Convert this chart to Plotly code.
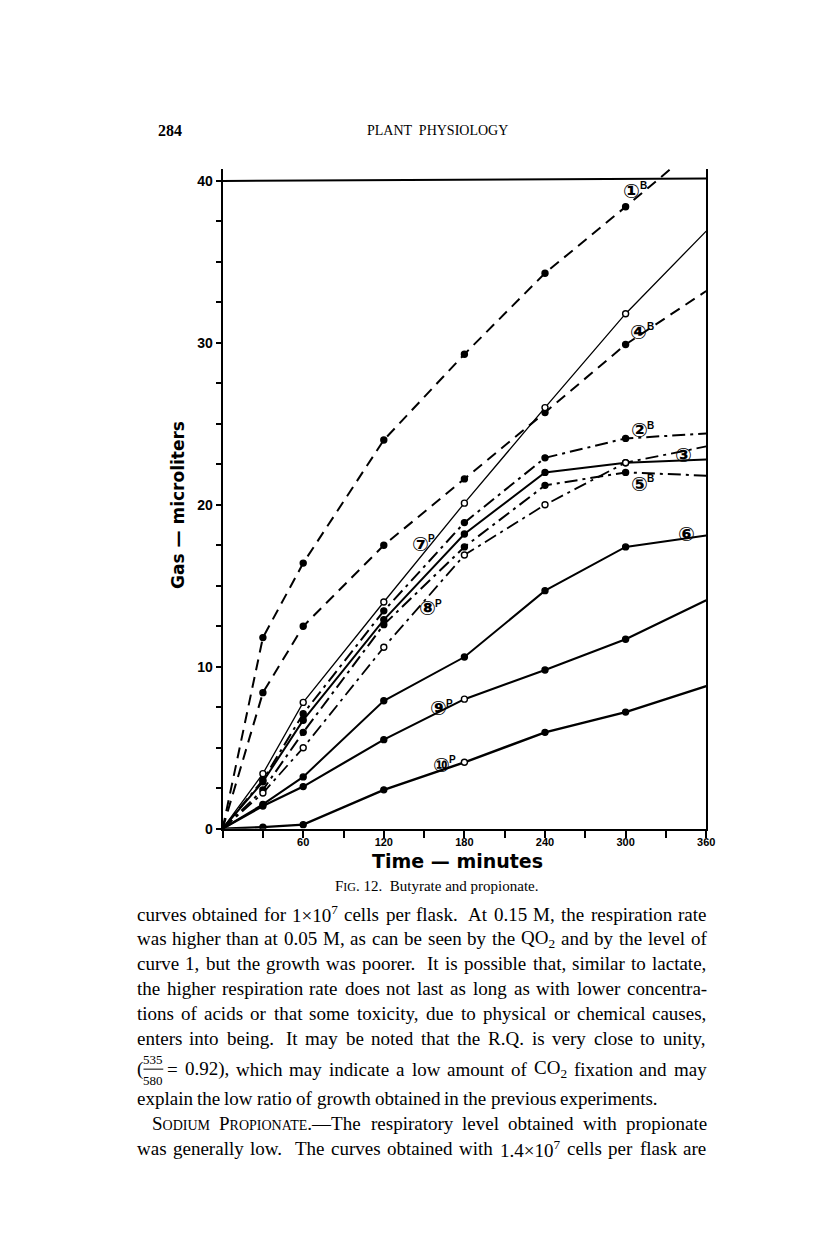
import re
import plotly.graph_objects as go

W_PX, H_PX = 816, 1248

# ---------------- data ----------------
time_min = [0, 30, 60, 120, 180, 240, 300, 360]
time_1B = [0, 30, 60, 120, 180, 240, 300, 333]
gas_1B = [0, 11.8, 16.4, 24.0, 29.3, 34.3, 38.4, 40.7]
gas_4B = [0, 8.4, 12.5, 17.5, 21.6, 25.7, 29.9, 33.2]
gas_7P = [0, 3.4, 7.8, 14.0, 20.1, 26.0, 31.8, 36.9]
gas_2B = [0, 3.0, 7.1, 13.45, 18.9, 22.9, 24.1, 24.4]
gas_3 = [0, 2.9, 6.7, 12.9, 18.2, 22.0, 22.6, 22.8]
gas_5B = [0, 2.4, 5.95, 12.6, 17.4, 21.2, 22.0, 21.8]
gas_8P = [0, 2.2, 5.0, 11.2, 16.9, 20.0, 22.6, 23.6]
gas_6 = [0, 1.5, 3.2, 7.9, 10.6, 14.7, 17.4, 18.1]
gas_9P = [0, 1.4, 2.6, 5.5, 8.0, 9.8, 11.7, 14.1]
gas_10P = [0, 0.1, 0.25, 2.4, 4.1, 5.95, 7.2, 8.8]

# curve labels (circled number + letter) and where they sit
label_num = ["\u2460", "\u2463", "\u2461", "\u2462", "\u2464", "\u2465", "\u2466", "\u2467", "\u2468", "\u2469"]
label_sfx = ["B", "B", "B", "", "B", "", "P", "P", "P", "P"]
label_x = [304.7, 309.7, 310.3, 343.4, 310.3, 345.3, 147.3, 152.4, 160.7, 162.6]
label_y = [39.4, 30.7, 24.6, 23.1, 21.3, 18.2, 17.6, 13.6, 7.45, 3.95]

x_tick_vals = [60, 120, 180, 240, 300, 360]
x_tick_text = ["60", "120", "180", "240", "300", "360"]
y_tick_vals = [0, 10, 20, 30, 40]
y_tick_text = ["0", "10", "20", "30", "40"]
frame_top_value = 40

# ---------------- styles ----------------
DASH = "11px,7px"
DASHDOT = "13px,5px,3px,5px"

fig = go.Figure()


def add_curve(t, g, dash, width, open_idx=()):
    fig.add_trace(go.Scatter(x=t, y=g, mode="lines",
                             line=dict(color="black", width=width, dash=dash),
                             showlegend=False, hoverinfo="skip"))
    mt, mg = t[1:-1], g[1:-1]
    cols = ["white" if (i + 1) in open_idx else "black" for i in range(len(mt))]
    fig.add_trace(go.Scatter(x=mt, y=mg, mode="markers",
                             marker=dict(size=6, color=cols, line=dict(color="black", width=1.4)),
                             showlegend=False, hoverinfo="skip"))


add_curve(time_1B, gas_1B, DASH, 2.0)
add_curve(time_min, gas_4B, DASH, 2.0)
add_curve(time_min, gas_7P, "solid", 1.3, open_idx=list(range(8)))
add_curve(time_min, gas_2B, DASHDOT, 2.0)
add_curve(time_min, gas_3, "solid", 2.0)
add_curve(time_min, gas_5B, DASHDOT, 2.0)
add_curve(time_min, gas_8P, DASHDOT, 1.8, open_idx=list(range(8)))
add_curve(time_min, gas_6, "solid", 2.0)
add_curve(time_min, gas_9P, "solid", 2.2, open_idx=[4])
add_curve(time_min, gas_10P, "solid", 2.4, open_idx=[4])

# frame line at 40
fig.add_shape(type="line", xref="x", yref="y", x0=0, x1=360,
              y0=frame_top_value, y1=frame_top_value + 0.15,
              line=dict(color="black", width=2))

# curve labels
for n, s, lx, ly in zip(label_num, label_sfx, label_x, label_y):
    fig.add_annotation(x=lx, y=ly, xref="x", yref="y", text=n, showarrow=False,
                       font=dict(family="DejaVu Sans", size=20, color="black", weight="bold"),
                       xanchor="center", yanchor="middle", borderpad=0)
    if s:
        fig.add_annotation(x=lx, y=ly, xref="x", yref="y", text=s, showarrow=False,
                           font=dict(family="Liberation Sans", size=10, color="black", weight="bold"),
                           xanchor="left", yanchor="middle", xshift=7, yshift=5, borderpad=0)

X_LEFT, X_RIGHT = 217, 706
Y_BOT, Y_TOP = 826, 162
PX_PER_UNIT = 16.3

fig.update_xaxes(domain=[X_LEFT / W_PX, X_RIGHT / W_PX], range=[0, 360],
                 showline=True, linecolor="black", linewidth=2, showgrid=False, zeroline=False,
                 tickmode="array", tickvals=x_tick_vals, ticktext=x_tick_text,
                 ticks="outside", ticklen=2, tickwidth=1.5, tickcolor="black",
                 minor=dict(tick0=0, dtick=30, ticks="outside", ticklen=7, tickwidth=1.5,
                            tickcolor="black", showgrid=False),
                 tickfont=dict(family="Liberation Sans", size=11, color="black", weight="bold"))
fig.update_yaxes(domain=[(H_PX - Y_BOT) / H_PX, (H_PX - Y_TOP) / H_PX],
                 range=[0, (Y_BOT - Y_TOP) / PX_PER_UNIT],
                 showline=True, mirror=True, linecolor="black", linewidth=2, showgrid=False,
                 zeroline=False, tickmode="array", tickvals=y_tick_vals, ticktext=y_tick_text,
                 ticks="outside", ticklen=5, tickwidth=2, tickcolor="black",
                 minor=dict(tick0=0, dtick=2.5, ticks="outside", ticklen=5, tickwidth=2,
                            tickcolor="black", showgrid=False),
                 tickfont=dict(family="Liberation Sans", size=14, color="black", weight="bold"))


def px_ann(text, x, y, size, family="Liberation Serif", xanchor="left", angle=0, bold=False):
    fig.add_annotation(x=x / W_PX, y=1 - y / H_PX, xref="paper", yref="paper",
                       text=text, showarrow=False, xanchor=xanchor, yanchor="middle",
                       textangle=angle, borderpad=0, borderwidth=0,
                       font=dict(family=family, size=size, color="black",
                                 weight="bold" if bold else "normal"))


# header
px_ann("284", 152, 123, 16, bold=True)
px_ann("PLANT  PHYSIOLOGY", 434, 123, 14, xanchor="center")

# axis titles
px_ann("Gas — microliters", 172, 500, 17, family="DejaVu Sans", xanchor="center", angle=-90, bold=True)
px_ann("Time — minutes", 455, 858, 19, family="DejaVu Sans", xanchor="center", bold=True)

# caption
px_ann("F<span style='font-size:12px'>IG</span>. 12.  Butyrate and propionate.", 433, 884, 15,
       xanchor="center")

# ---------------- body text (justified with Times metrics) ----------------
TW = {' ': 250, '!': 333, '(': 333, ')': 333, ',': 250, '-': 333, '.': 250, '/': 278,
      ':': 278, ';': 278, '=': 564, '\u00d7': 564, '\u2014': 1000,
      'A': 722, 'B': 667, 'C': 667, 'D': 722, 'E': 611, 'F': 556, 'G': 722, 'H': 722, 'I': 333,
      'J': 389, 'K': 722, 'L': 611, 'M': 889, 'N': 722, 'O': 722, 'P': 556, 'Q': 722, 'R': 667,
      'S': 556, 'T': 611, 'U': 722, 'V': 722, 'W': 944, 'X': 722, 'Y': 722, 'Z': 611,
      'a': 444, 'b': 500, 'c': 444, 'd': 500, 'e': 444, 'f': 333, 'g': 500, 'h': 500, 'i': 278,
      'j': 278, 'k': 500, 'l': 278, 'm': 778, 'n': 500, 'o': 500, 'p': 500, 'q': 500, 'r': 333,
      's': 389, 't': 278, 'u': 500, 'v': 500, 'w': 722, 'x': 500, 'y': 500, 'z': 444}


def measure(markup, size):
    total = 0.0
    stack = [1.0]
    for m in re.finditer(r"<(/?)(sup|sub|span)([^>]*)>|([^<]+)", markup):
        if m.group(4) is not None:
            total += sum(TW.get(c, 500) for c in m.group(4)) * stack[-1]
        elif m.group(1) == "/":
            if len(stack) > 1:
                stack.pop()
        elif m.group(2) in ("sup", "sub"):
            stack.append(0.7)
        else:
            fs = re.search(r"font-size:\s*([\d.]+)px", m.group(3))
            stack.append(float(fs.group(1)) / size if fs else 1.0)
    return total * size / 1000.0


BODY_SIZE = 19
BODY_X0, BODY_X1 = 130, 706
SC = "<span style='font-size:14px'>%s</span>"
body_lines = [
    ("curves obtained for 1\u00d710<sup>7</sup> cells per flask.  At 0.15 M, the respiration rate", True, 0, 0),
    ("was higher than at 0.05 M, as can be seen by the QO<sub>2</sub> and by the level of", True, 0, 0),
    ("curve 1, but the growth was poorer.  It is possible that, similar to lactate,", True, 0, 0),
    ("the higher respiration rate does not last as long as with lower concentra-", True, 0, 0),
    ("tions of acids or that some toxicity, due to physical or chemical causes,", True, 0, 0),
    ("enters into being.  It may be noted that the R.Q. is very close to unity,", True, 0, 0),
    ("= 0.92), which may indicate a low amount of CO<sub>2</sub> fixation and may", True, 0, 31),
    ("explain the low ratio of growth obtained in the previous experiments.", False, 0, 0),
    ("S" + SC % "ODIUM" + " P" + SC % "ROPIONATE" + ".\u2014The respiratory level obtained with propionate", True, 16, 0),
    ("was generally low.  The curves obtained with 1.4\u00d710<sup>7</sup> cells per flask are", True, 0, 0),
]
body_y = [912, 937, 962, 987, 1012, 1037, 1068, 1098, 1123, 1148]

for (line, justify, indent, prefix), ly in zip(body_lines, body_y):
    raw = re.split(r" (?![^<]*>)", line)
    words, weights = [], []
    pending = 1.0
    for tok in raw:
        if tok == "":
            pending = 1.6
            continue
        if words:
            weights.append(pending)
        pending = 1.0
        words.append(tok)
    widths = [measure(w, BODY_SIZE) for w in words]
    x_start = BODY_X0 + indent + prefix
    avail = BODY_X1 - x_start
    if justify and len(words) > 1:
        unit = (avail - sum(widths)) / sum(weights)
    else:
        unit = 0.25 * BODY_SIZE
    x = x_start
    for i, (w, wd) in enumerate(zip(words, widths)):
        px_ann(w, x, ly, BODY_SIZE)
        x += wd
        if i < len(weights):
            x += unit * weights[i]

# fraction (535/580) at the start of its line
fy = body_y[6]
px_ann("(", BODY_X0, fy, BODY_SIZE)
px_ann("535", BODY_X0 + 17, fy - 10, 13, xanchor="center")
px_ann("580", BODY_X0 + 17, fy + 11, 13, xanchor="center")
fig.add_shape(type="line", xref="paper", yref="paper",
              x0=(BODY_X0 + 7) / W_PX, x1=(BODY_X0 + 27) / W_PX,
              y0=1 - fy / H_PX, y1=1 - fy / H_PX, line=dict(color="black", width=1))

fig.update_layout(width=W_PX, height=H_PX, margin=dict(l=0, r=0, t=0, b=0),
                  paper_bgcolor="white", plot_bgcolor="white", showlegend=False)

fig.write_html("out.html")
